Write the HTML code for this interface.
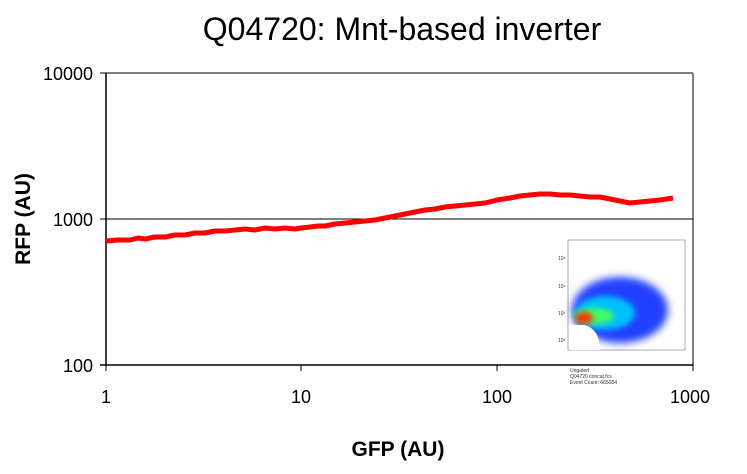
<!DOCTYPE html>
<html><head><style>
body{margin:0;background:#fff;}
</style></head><body>
<svg width="747" height="469" xmlns="http://www.w3.org/2000/svg" font-family="Liberation Sans, Arial, sans-serif">
<defs>
<filter id="b" x="-50%" y="-50%" width="200%" height="200%"><feGaussianBlur stdDeviation="4"/></filter>
<filter id="b2" x="-50%" y="-50%" width="200%" height="200%"><feGaussianBlur stdDeviation="3"/></filter>
</defs>
<rect width="747" height="469" fill="#fff"/>
<text x="402" y="40" font-size="32" text-anchor="middle">Q04720: Mnt-based inverter</text>
<line x1="106" y1="73" x2="693" y2="73" stroke="#808080" stroke-width="2"/>
<line x1="693" y1="73" x2="693" y2="365" stroke="#808080" stroke-width="2"/>
<line x1="106" y1="219" x2="693" y2="219" stroke="#000" stroke-width="1"/>
<line x1="106" y1="73" x2="106" y2="366" stroke="#000" stroke-width="1.5"/>
<line x1="100" y1="365" x2="693" y2="365" stroke="#000" stroke-width="1.5"/>
<g stroke="#000" stroke-width="1">
<line x1="100" y1="73" x2="106" y2="73"/><line x1="100" y1="219" x2="106" y2="219"/>
<line x1="106" y1="365" x2="106" y2="371"/><line x1="301" y1="365" x2="301" y2="371"/>
<line x1="497" y1="365" x2="497" y2="371"/><line x1="693" y1="365" x2="693" y2="371"/>
</g>
<g font-size="18" text-anchor="end">
<text x="93" y="80">10000</text><text x="93" y="226">1000</text><text x="93" y="372">100</text>
</g>
<g font-size="18" text-anchor="middle">
<text x="106" y="403">1</text><text x="301" y="403">10</text><text x="497" y="403">100</text><text x="690" y="403">1000</text>
</g>
<text x="398" y="456" font-size="21" font-weight="bold" text-anchor="middle">GFP (AU)</text>
<text transform="translate(30,219) rotate(-90)" font-size="21" font-weight="bold" text-anchor="middle">RFP (AU)</text>
<polyline fill="none" stroke="#ff0000" stroke-width="5" stroke-linejoin="round"
points="106,241 118,240 130,240 138,238 145,239 155,237 165,237 175,235 185,235 195,233 205,233 215,231 225,231 235,230 245,229 255,230 265,228 275,229 285,228 295,229 301,228 310,227 318,226 325,226 335,224 345,223 355,222 365,221 375,220 385,218 395,216 405,214 415,212 425,210 435,209 445,207 455,206 465,205 475,204 485,203 497,200 510,198 520,196 530,195 540,194 550,194 560,195 570,195 580,196 590,197 600,197 610,199 620,201 630,203 640,202 650,201 660,200 673,198"/>
<rect x="568" y="240" width="117" height="110" fill="#fff" stroke="#888" stroke-width="0.7"/>
<g>
<ellipse cx="620" cy="310" rx="48" ry="33" fill="#2040ff" filter="url(#b)"/>
<ellipse cx="605" cy="313" rx="30" ry="17" fill="#00c0ff" filter="url(#b2)"/>
<ellipse cx="594" cy="316" rx="20" ry="8" fill="#40ff60" filter="url(#b2)"/>
<ellipse cx="584" cy="318" rx="9" ry="6" fill="#ff3000" filter="url(#b2)"/>
<path d="M570,325 L585,325 Q600,330 600,350 L570,350 Z" fill="#fff"/>
</g>
<g font-size="5" fill="#333">
<text x="558" y="260">10⁵</text><text x="558" y="288">10⁴</text><text x="558" y="315">10³</text><text x="558" y="342">10²</text>
<text x="570" y="372">Ungated</text><text x="570" y="378">Q04720 concat.fcs</text><text x="570" y="384">Event Count: 665084</text>
</g>
</svg>
</body></html>
